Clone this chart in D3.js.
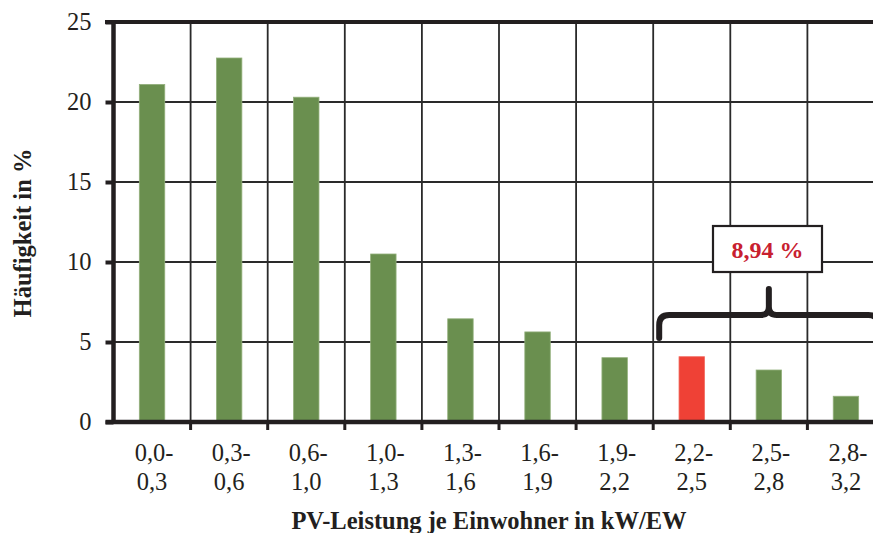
<!DOCTYPE html>
<html><head><meta charset="utf-8">
<script src="https://cdn.jsdelivr.net/npm/d3@7"></script>
<style>body{margin:0;background:#fff;} svg{display:block;} text{font-family:"Liberation Serif","Times New Roman",serif;}</style>
</head><body>
<svg id="c" width="873" height="533"></svg>
<script>
const categories = [["0,0-","0,3"],["0,3-","0,6"],["0,6-","1,0"],["1,0-","1,3"],["1,3-","1,6"],["1,6-","1,9"],["1,9-","2,2"],["2,2-","2,5"],["2,5-","2,8"],["2,8-","3,2"]];
const values = [21.1, 22.75, 20.3, 10.5, 6.45, 5.63, 4.02, 4.08, 3.25, 1.61];
const highlight = [false,false,false,false,false,false,false,true,false,false];
const yTicks = [0,5,10,15,20,25];
const annotation = "8,94 %";
const xTitle = "PV-Leistung je Einwohner in kW/EW";
const yTitle = "Häufigkeit in %";

(function(){
const svg = d3.select("#c");
const pL = 113.5, pR = 884.5, pT = 22, pB = 422;
const x = d3.scaleBand().domain(d3.range(categories.length)).range([pL, pR]).paddingInner(0.67).paddingOuter(0.335);
const xb = d3.scaleBand().domain(d3.range(categories.length)).range([pL, pR]);
const y = d3.scaleLinear().domain([0,25]).range([pB, pT]);
const font = "Liberation Serif";

// horizontal gridlines
svg.append("g").selectAll("line").data(yTicks.filter(t=>t>0 && t<25)).join("line")
  .attr("x1", pL).attr("x2", 873).attr("y1", d=>y(d)).attr("y2", d=>y(d))
  .attr("stroke", "#2a2a2a").attr("stroke-width", 1.8);
// vertical gridlines
svg.append("g").selectAll("line").data(d3.range(1, categories.length)).join("line")
  .attr("x1", d=>xb(d)).attr("x2", d=>xb(d)).attr("y1", pT).attr("y2", pB)
  .attr("stroke", "#2a2a2a").attr("stroke-width", 1.8);

// bars
svg.append("g").selectAll("rect").data(values).join("rect")
  .attr("x", (d,i)=>x(i)).attr("width", x.bandwidth())
  .attr("y", d=>y(d)).attr("height", d=>pB - y(d))
  .attr("fill", (d,i)=>highlight[i] ? "#ef4136" : "#6a8f4f")
  .attr("stroke", (d,i)=>highlight[i] ? "#f26a5f" : "#93b07c").attr("stroke-width", 0.8);

// top border
svg.append("line").attr("x1", 105).attr("x2", 873).attr("y1", pT).attr("y2", pT)
  .attr("stroke", "#231f20").attr("stroke-width", 4);

// y axis
const yAxis = d3.axisLeft(y).tickValues(yTicks).tickSize(8).tickPadding(14).tickFormat(d3.format("d"));
const ya = svg.append("g").attr("transform", `translate(${pL},0)`).call(yAxis);
ya.select(".domain").remove();
ya.selectAll(".tick line").attr("stroke", "#231f20").attr("stroke-width", 4);
ya.selectAll("text").style("font-family", font).style("font-size", "24.5px").attr("fill", "#231f20");
svg.append("line").attr("x1", pL).attr("x2", pL).attr("y1", pT-2).attr("y2", pB+2)
  .attr("stroke", "#231f20").attr("stroke-width", 4.5);

// x axis
const xa = svg.append("g").attr("transform", `translate(0,${pB})`);
xa.selectAll("line").data(d3.range(1, categories.length)).join("line")
  .attr("x1", d=>xb(d)).attr("x2", d=>xb(d)).attr("y1", 0).attr("y2", 8)
  .attr("stroke", "#231f20").attr("stroke-width", 3);
svg.append("line").attr("x1", pL-8).attr("x2", 873).attr("y1", pB).attr("y2", pB)
  .attr("stroke", "#231f20").attr("stroke-width", 4.5);
const lbl = svg.append("g").selectAll("text").data(categories).join("text")
  .style("font-family", font).style("font-size", "24.5px").attr("fill", "#231f20").attr("text-anchor", "middle");
lbl.append("tspan").attr("x", (d,i)=>xb(i)+xb.bandwidth()/2+2).attr("y", 461).text(d=>d[0]);
lbl.append("tspan").attr("x", (d,i)=>xb(i)+xb.bandwidth()/2).attr("y", 490).text(d=>d[1]);

// titles
svg.append("text").attr("x", 489).attr("y", 529).attr("text-anchor", "middle")
  .style("font-family", font).style("font-weight", "bold").style("font-size", "24.5px").attr("fill", "#231f20").text(xTitle);
svg.append("text").attr("transform", "translate(31,233) rotate(-90)").attr("text-anchor", "middle")
  .style("font-family", font).style("font-weight", "bold").style("font-size", "24.5px").attr("fill", "#231f20").text(yTitle);

// brace over last three categories
const bx0 = xb(7) + 6, bx1 = xb(9) + xb.bandwidth() - 6, bm = (bx0+bx1)/2;
const yb = 315, ye = 338, yp = 289, r = 10;
const path = d3.path();
path.moveTo(bx0, ye);
path.lineTo(bx0, yb + r);
path.quadraticCurveTo(bx0, yb, bx0 + r, yb);
path.lineTo(bm - 8, yb);
path.quadraticCurveTo(bm, yb, bm, yb - 8);
path.lineTo(bm, yp);
path.moveTo(bm, yb - 8);
path.quadraticCurveTo(bm, yb, bm + 8, yb);
path.lineTo(bx1 - r, yb);
path.quadraticCurveTo(bx1, yb, bx1, yb + r);
path.lineTo(bx1, ye);
svg.append("path").attr("d", path.toString()).attr("fill", "none")
  .attr("stroke", "#231f20").attr("stroke-width", 6).attr("stroke-linecap", "round").attr("stroke-linejoin", "round");

// annotation box
svg.append("rect").attr("x", 713).attr("y", 226).attr("width", 109).attr("height", 46)
  .attr("fill", "#fff").attr("stroke", "#231f20").attr("stroke-width", 2.2);
svg.append("text").attr("x", 767.5).attr("y", 258).attr("text-anchor", "middle")
  .style("font-family", font).style("font-weight", "bold").style("font-size", "24px").attr("fill", "#c8202f").text(annotation);
})();
</script>
</body></html>
